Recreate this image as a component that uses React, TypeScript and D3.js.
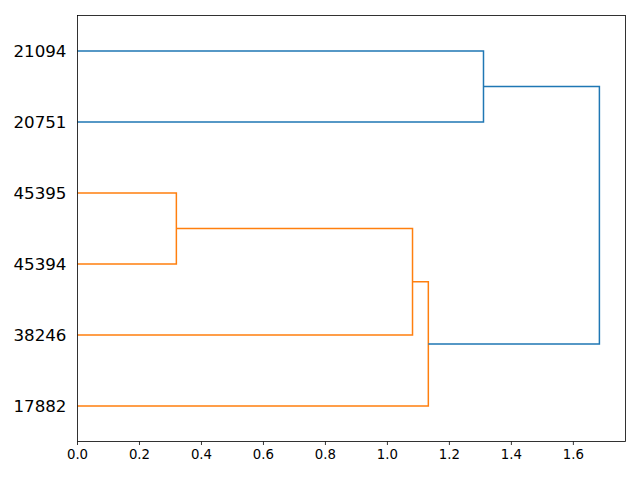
import React from "react";
import * as d3 from "d3";

const leafLabels = ["17882", "38246", "45394", "45395", "20751", "21094"];
// merges: [childA, childB, height]; children: leaf index (0..5) or cluster id (6+)
const mergeA = [3, 6, 7, 5, 8];
const mergeB = [2, 1, 0, 4, 9];
const mergeHeights = [0.319, 1.081, 1.132, 1.310, 1.684];
const mergeColors = ["#ff7f0e", "#ff7f0e", "#ff7f0e", "#1f77b4", "#1f77b4"];
const xTicks = [0, 0.2, 0.4, 0.6, 0.8, 1.0, 1.2, 1.4, 1.6];

const W = 640, H = 480;
const L = 77.5, R = 625.5, T = 15.5, B = 441.5;

export default function App() {
  const maxH = d3.max(mergeHeights) as number;
  const x = d3.scaleLinear().domain([0, maxH * 1.05]).range([L, R]);
  const y = d3.scaleLinear().domain([0, leafLabels.length * 10]).range([B, T]);

  const nodePos: { y: number; h: number }[] = leafLabels.map((_, i) => ({ y: i * 10 + 5, h: 0 }));
  const paths: { d: string; c: string }[] = [];
  mergeHeights.forEach((h, k) => {
    const a = nodePos[mergeA[k]];
    const b = nodePos[mergeB[k]];
    const p = d3.path();
    p.moveTo(x(a.h), y(a.y));
    p.lineTo(x(h), y(a.y));
    p.lineTo(x(h), y(b.y));
    p.lineTo(x(b.h), y(b.y));
    paths.push({ d: p.toString(), c: mergeColors[k] });
    nodePos.push({ y: (a.y + b.y) / 2, h });
  });

  const font = "DejaVu Sans, sans-serif";
  return (
    <svg width={W} height={H} style={{ display: "block", position: "absolute", left: 0, top: 0 }}>
      <rect x={0} y={0} width={W} height={H} fill="white" />
      <defs>
        <clipPath id="clip">
          <rect x={L - 1} y={T} width={R - L + 2} height={B - T} />
        </clipPath>
      </defs>
      <g clipPath="url(#clip)">
        {paths.map((p, i) => (
          <path key={i} d={p.d} fill="none" stroke={p.c} strokeWidth={1.5} />
        ))}
      </g>
      <rect x={L} y={T} width={R - L} height={B - T} fill="none" stroke="black" strokeWidth={0.8} />
      {xTicks.map((t, i) => (
        <g key={i} transform={`translate(${x(t)},${B})`}>
          <line y1={0} y2={3.5} stroke="black" strokeWidth={0.8} />
          <text y={17} textAnchor="middle" fontFamily={font} fontSize={13.3} fill="black">
            {t.toFixed(1)}
          </text>
        </g>
      ))}
      {leafLabels.map((lab, i) => (
        <text key={i} x={L - 11} y={y(i * 10 + 5)} dy="0.36em" textAnchor="end" fontFamily={font} fontSize={16.7} fill="black">
          {lab}
        </text>
      ))}
    </svg>
  );
}
